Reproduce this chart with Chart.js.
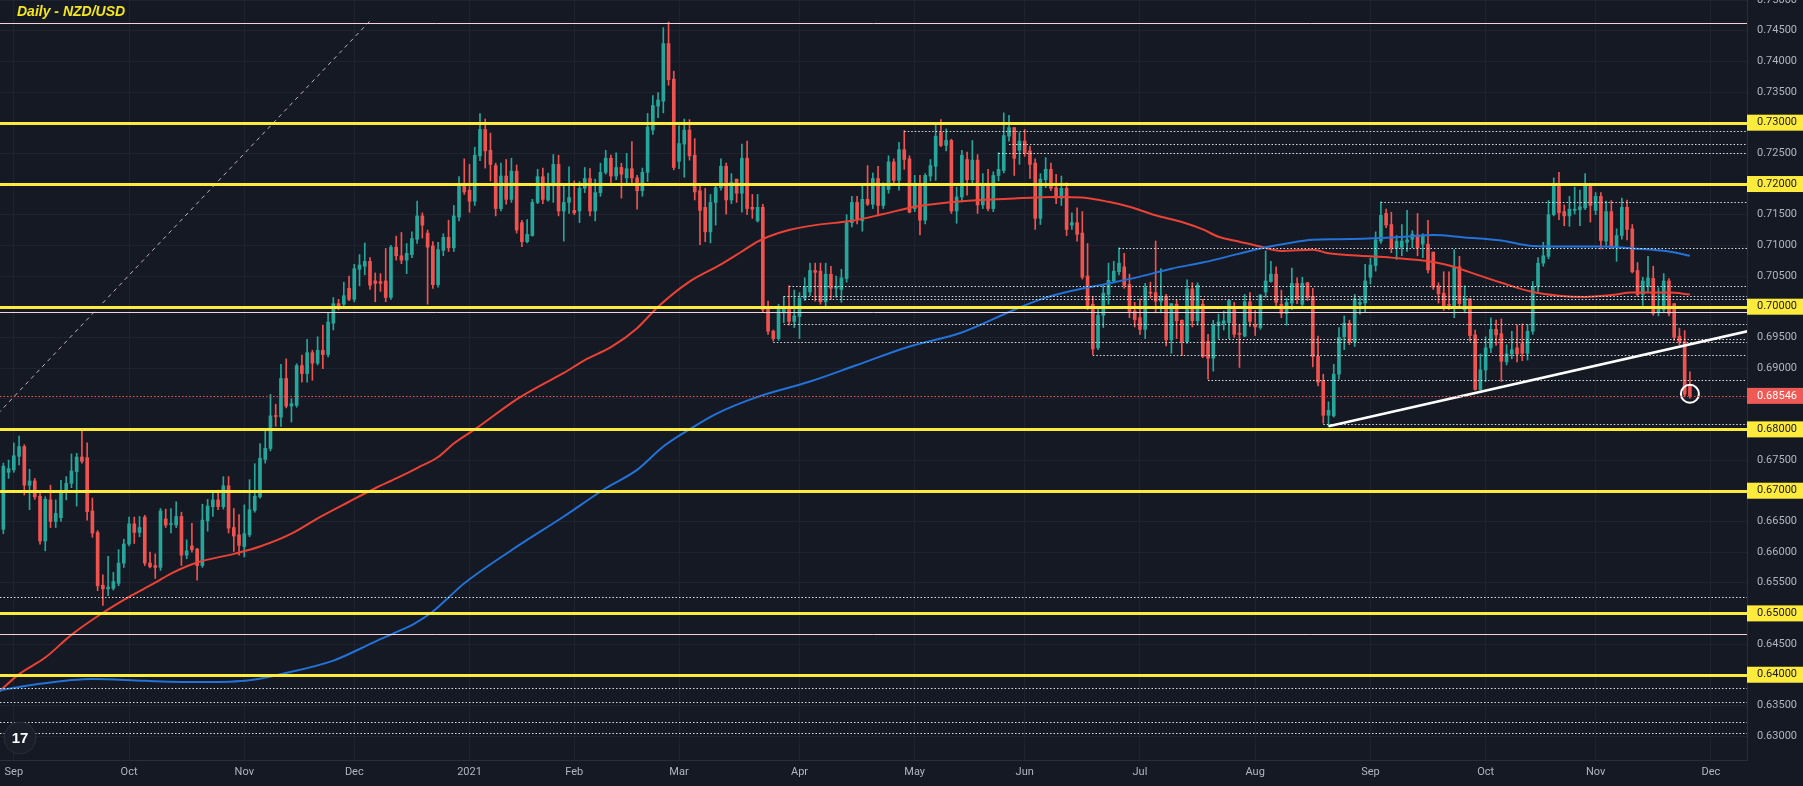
<!DOCTYPE html>
<html>
<head>
<meta charset="utf-8">
<script src="https://cdn.jsdelivr.net/npm/chart.js@4.4.1/dist/chart.umd.min.js"></script>
<style>
  html, body { margin: 0; padding: 0; background: #151924; overflow: hidden; }
  canvas { display: block; }
</style>
</head>
<body>
<canvas id="chart" width="1803" height="786"></canvas>
<script>
// Daily NZD/USD candles, values in pips (price * 10000), one entry per trading day
const opens = [
  6620,6637,6730,6734,6756,6772,6709,6716,6691,6618, 6685,6650,6656,6701,6712,6731,6755,6754,6667,6632,
  6546,6540,6541,6549,6582,6613,6646,6632,6657,6582, 6578,6575,6654,6645,6644,6658,6595,6610,6605,6578,
  6651,6674,6685,6674,6708,6640,6628,6609,6628,6668, 6690,6751,6769,6822,6820,6883,6838,6839,6904,6891,
  6925,6908,6929,6922,6973,7005,7004,7030,7012,7061, 7066,7074,7042,7041,7042,7015,7097,7083,7076,7085,
  7110,7148,7120,7099,7036,7092,7113,7096,7146,7199, 7190,7172,7246,7289,7255,7230,7160,7213,7175,7221,
  7137,7106,7116,7170,7212,7174,7197,7232,7156,7170, 7157,7156,7193,7209,7156,7186,7219,7242,7213,7227,
  7210,7225,7210,7189,7219,7288,7327,7335,7429,7371, 7237,7265,7288,7247,7189,7162,7122,7170,7194,7229,
  7174,7208,7185,7242,7162,7140,7162,6998,6960,6948, 6990,7000,6976,6984,7014,7024,7059,7058,7008,7053,
  7030,7028,7046,7137,7170,7140,7175,7167,7209,7165, 7191,7236,7206,7256,7241,7160,7199,7141,7213,7229,
  7284,7263,7271,7156,7179,7240,7207,7239,7166,7198, 7160,7214,7222,7278,7292,7255,7270,7254,7234,7144,
  7207,7224,7194,7177,7193,7133,7137,7120,7050,7004, 6933,6986,7020,7042,7057,7065,7036,6993,6982,6963,
  7023,7023,7009,7017,6946,7004,6978,6943,7029,6977, 7004,6943,6916,6969,6973,6974,7000,6956,6952,7008,
  6970,6966,7024,7041,7053,7004,6989,7006,7038,7004, 7039,7017,6919,6879,6823,6822,6890,6951,6973,6943,
  7004,7006,7048,7067,7107,7152,7134,7095,7097,7105, 7110,7117,7102,7102,7089,7034,7022,7003,7001,7065,
  6995,7013,6954,6865,6897,6933,6963,6956,6910,6923, 6933,6940,6924,6960,7033,7071,7082,7150,7199,7155,
  7148,7157,7158,7161,7199,7157,7180,7107,7155,7098, 7116,7162,7127,7059,7020,7033,7046,6990,6995,7042,
  7005,6952,6943,6870
];
const highs = [
  6645,6745,6750,6778,6789,6775,6735,6720,6697,6690, 6709,6685,6717,6723,6760,6761,6798,6778,6688,6635,
  6563,6593,6567,6604,6621,6657,6657,6658,6660,6600, 6597,6671,6670,6671,6682,6665,6620,6647,6606,6678,
  6686,6699,6701,6723,6723,6671,6661,6677,6718,6744, 6777,6798,6857,6841,6906,6915,6850,6907,6921,6947,
  6929,6951,6970,6990,7015,7012,7040,7050,7069,7085, 7104,7080,7055,7054,7095,7100,7115,7121,7103,7122,
  7172,7153,7125,7106,7105,7119,7141,7165,7212,7241, 7232,7260,7315,7306,7283,7234,7234,7240,7242,7231,
  7141,7142,7175,7224,7226,7218,7248,7247,7197,7228, 7205,7204,7227,7225,7208,7234,7255,7247,7251,7234,
  7250,7269,7214,7226,7315,7344,7349,7455,7464,7384, 7295,7306,7305,7274,7197,7193,7183,7200,7241,7234,
  7217,7208,7265,7270,7183,7183,7167,7009,6962,7004, 7017,7034,7027,7023,7047,7071,7071,7071,7071,7066,
  7050,7061,7150,7180,7180,7198,7230,7218,7229,7202, 7246,7241,7268,7287,7246,7214,7214,7217,7240,7297,
  7305,7290,7273,7195,7255,7252,7271,7248,7217,7224, 7220,7251,7316,7312,7292,7284,7289,7262,7241,7217,
  7243,7234,7216,7213,7202,7153,7161,7155,7103,7017, 6996,7036,7071,7074,7096,7087,7053,7007,7013,7038,
  7040,7107,7062,7020,7005,7011,6978,7044,7039,7039, 7012,6955,6978,6988,6993,7010,7007,6971,7020,7023,
  6994,7020,7091,7074,7065,7027,7014,7063,7047,7048, 7040,7030,6952,6890,6845,6906,6966,6985,6978,7020,
  7017,7069,7079,7122,7171,7159,7154,7116,7134,7157, 7124,7152,7119,7141,7089,7039,7057,7057,7093,7082,
  7034,7013,6962,6923,6951,6982,6978,6980,6938,6960, 6970,6972,6971,7041,7080,7105,7173,7210,7219,7166,
  7180,7195,7190,7217,7199,7186,7186,7172,7173,7127, 7177,7174,7134,7072,7048,7082,7066,7031,7054,7046,
  7005,6965,6961,6894
];
const lows = [
  6600,6630,6720,6730,6742,6693,6669,6686,6613,6602, 6640,6640,6650,6685,6705,6675,6745,6652,6624,6537,
  6513,6529,6538,6545,6575,6610,6614,6625,6578,6574, 6557,6570,6640,6631,6640,6578,6589,6600,6554,6575,
  6634,6658,6669,6670,6631,6601,6595,6592,6625,6665, 6688,6745,6765,6805,6805,6835,6812,6836,6877,6877,
  6880,6905,6899,6918,6962,6995,7000,7010,7008,7034, 7052,7028,7008,7025,7008,7012,7076,7070,7054,7080,
  7103,7112,7004,7030,7032,7083,7090,7090,7140,7183, 7154,7165,7238,7226,7205,7148,7156,7167,7170,7120,
  7098,7104,7115,7168,7168,7172,7170,7148,7107,7152, 7150,7137,7186,7148,7140,7180,7216,7202,7207,7177,
  7200,7202,7159,7180,7204,7281,7308,7316,7361,7223, 7225,7211,7239,7174,7101,7106,7104,7133,7190,7151,
  7168,7170,7154,7150,7144,7138,6991,6955,6944,6945, 6974,6970,6966,6948,7010,7018,7009,7004,7000,7012,
  7015,7007,7040,7130,7135,7123,7165,7160,7148,7160, 7185,7200,7190,7224,7153,7155,7117,7135,7205,7206,
  7261,7254,7152,7136,7171,7182,7200,7152,7160,7156, 7155,7205,7218,7270,7214,7232,7245,7209,7126,7134,
  7194,7189,7168,7165,7116,7126,7107,7045,6995,6922, 6930,6966,7004,7039,7052,7030,6982,6967,6955,6948,
  7014,6990,6990,6936,6924,6948,6920,6940,6967,6970, 6917,6882,6895,6948,6962,6948,6950,6901,6951,6968,
  6953,6963,7015,7040,7001,6982,6970,6995,7005,6998, 7010,6902,6871,6810,6805,6820,6882,6930,6938,6935,
  6988,6991,7037,7058,7103,7129,7088,7077,7083,7090, 7096,7083,7080,7055,7028,7006,6994,6995,6982,7000,
  6990,6944,6864,6864,6878,6925,6937,6878,6905,6915, 6910,6912,6913,6955,7025,7066,7078,7148,7142,7132,
  7131,7151,7132,7158,7138,7150,7094,7100,7095,7074, 7110,7109,7055,7017,7002,7025,6986,6985,6990,6985,
  6945,6938,6853,6851
];
const closes = [
  6639,6740,6736,6757,6772,6709,6716,6690,6618,6686, 6650,6663,6696,6712,6732,6755,6748,6666,6631,6545,
  6540,6543,6552,6582,6613,6646,6632,6640,6582,6576, 6575,6667,6644,6645,6658,6595,6602,6604,6578,6652,
  6675,6685,6674,6708,6639,6626,6611,6630,6669,6691, 6753,6769,6822,6821,6883,6838,6842,6904,6891,6925,
  6908,6929,6922,6975,7005,7001,7018,7012,7062,7068, 7074,7035,7038,7038,7015,7097,7083,7076,7087,7111,
  7148,7133,7097,7036,7093,7113,7096,7148,7199,7187, 7172,7247,7289,7254,7232,7160,7213,7175,7221,7125,
  7106,7118,7170,7212,7175,7197,7232,7156,7170,7178, 7153,7193,7209,7156,7186,7219,7242,7213,7227,7216,
  7225,7210,7189,7219,7293,7328,7337,7429,7370,7227, 7266,7288,7246,7187,7157,7122,7170,7194,7229,7174,
  7203,7185,7242,7160,7159,7162,6995,6960,6948,6998, 6998,6976,6985,7014,7032,7059,7056,7008,7053,7030,
  7033,7047,7137,7170,7143,7175,7167,7209,7165,7196, 7236,7206,7256,7240,7154,7199,7141,7214,7230,7278,
  7263,7271,7156,7179,7247,7207,7239,7166,7198,7160, 7214,7224,7279,7292,7242,7270,7251,7232,7144,7208,
  7224,7193,7177,7193,7126,7137,7118,7048,7000,6931, 6986,7022,7043,7058,7071,7035,6992,6979,6963,7031,
  7022,7009,7017,6946,7005,6977,6943,7029,6977,7035, 6919,6916,6970,6975,6977,7010,6955,6955,7008,6976,
  6967,7019,7042,7053,7007,6989,7007,7038,7013,7038, 7015,6919,6877,6823,6831,6890,6950,6973,6943,7013,
  7007,7042,7068,7109,7149,7133,7095,7107,7107,7109, 7118,7096,7117,7060,7032,7021,7001,7002,7065,7005,
  7014,6953,6865,6897,6933,6963,6954,6911,6923,6930, 6923,6924,6960,7033,7071,7083,7150,7199,7153,7148,
  7159,7159,7163,7199,7165,7180,7108,7155,7098,7116, 7162,7126,7057,7020,7042,7047,6989,6997,7042,6989,
  6950,6943,6857,6854.6
];

// month tick labels (day index of the first trading day of each month)
const monthTickIdx = [3, 25, 47, 68, 90, 110, 130, 153, 175, 196, 218, 240, 262, 284, 305, 327];
const monthLabels = ['Sep', 'Oct', 'Nov', 'Dec', '2021', 'Feb', 'Mar', 'Apr', 'May', 'Jun', 'Jul', 'Aug', 'Sep', 'Oct', 'Nov', 'Dec'];
const yTicks = [0.630, 0.635, 0.640, 0.645, 0.650, 0.655, 0.660, 0.665, 0.670, 0.675, 0.680, 0.685, 0.690,
                0.695, 0.700, 0.705, 0.710, 0.715, 0.720, 0.725, 0.730, 0.735, 0.740, 0.745, 0.750];

// moving averages
const ma100Idx = [0,4,9,14,20,25,30,33,38,45,50,56,61,67,72,76,80,84,87,91,99,103,108,112,117,122,126,132,138,142,
  145,147,151,156,163,169,175,184,193,202,207,212,216,221,226,230,233,237,241,245,251,254,260,266,274,278,280,287,293,298,
  303,308,312,319,323];
const ma100 = [0.6371,0.6401,0.6428,0.6465,0.6501,0.6527,0.6550,0.6565,0.6583,0.6597,0.6609,0.6630,0.6655,0.6682,0.6704,
  0.6720,0.6737,0.6755,0.6777,0.6800,0.6849,0.6869,0.6892,0.6913,0.6934,0.6965,0.7000,0.7041,0.7069,0.7090,
  0.7106,0.7114,0.7125,0.7133,0.7140,0.7151,0.7163,0.7172,0.7176,0.7179,0.7178,0.7171,0.7163,0.7149,0.7138,
  0.7126,0.7114,0.7106,0.7098,0.7091,0.7093,0.7087,0.7083,0.7080,0.7073,0.7065,0.7059,0.7039,0.7024,0.7018,
  0.7016,0.7019,0.7023,0.7023,0.7020];
const ma200Idx = [0,7,18,28,39,48,54,64,72,77,79,83,86,89,98,108,116,122,127,132,137,145,155,164,174,184,194,199,205,212,
  218,224,230,233,241,246,251,256,264,272,274,280,287,293,300,306,312,319,323];
const ma200 = [0.6374,0.6384,0.6393,0.6390,0.6388,0.6391,0.6401,0.6423,0.6454,0.6473,0.6481,0.6503,0.6526,0.6549,0.6603,
  0.6658,0.6704,0.6734,0.6772,0.6800,0.6825,0.6853,0.6878,0.6905,0.6935,0.6958,0.6995,0.7012,0.7026,0.7038,
  0.7049,0.7062,0.7072,0.7078,0.7095,0.7103,0.7109,0.7110,0.7112,0.7116,0.7117,0.7113,0.7108,0.7099,0.7098,
  0.7098,0.7095,0.7090,0.7083];

// drawings
const yellowLevels = [0.73, 0.72, 0.70, 0.68, 0.67, 0.65, 0.64];
const pinkLevels = [0.7463, 0.6992, 0.6467];
const dottedLevels = [0.7286, 0.7265, 0.7250, 0.7170, 0.7095, 0.7034, 0.7017, 0.7012, 0.6972, 0.6947, 0.6942,
                      0.6922, 0.6880, 0.6808, 0.6527, 0.6378, 0.6356, 0.6323, 0.6305];
const dottedFrom = [173, 193, 191, 264, 214, 151, 150, 154, 150, 233, 148, 209, 231, 253, 0, 0, 0, 0, 0];
const trendIdx = [254, 334];
const trendVal = [0.6805, 0.6960];
const diagIdx = [0, 71];
const diagVal = [0.6826, 0.7466];
const markIdx = [323];
const markVal = [0.6858];

const PIP = 10000;
const lastPrice = closes[closes.length - 1] / PIP;
const days = opens.map((_, i) => i);
const candleColors = days.map(i => closes[i] >= opens[i] ? '#26a69a' : '#ef5350');

const drawings = {
  id: 'drawings',
  afterDatasetsDraw(chart) {
    const { ctx, chartArea: a, scales: { x, y } } = chart;
    ctx.save();
    ctx.beginPath();
    ctx.rect(a.left, a.top, a.width, a.height);
    ctx.clip();
    const hline = (v, x0, color, width, dash) => {
      const py = Math.round(y.getPixelForValue(v)) + (width % 2 ? 0.5 : 0);
      ctx.strokeStyle = color;
      ctx.lineWidth = width;
      ctx.setLineDash(dash);
      ctx.beginPath();
      ctx.moveTo(x0, py);
      ctx.lineTo(a.right, py);
      ctx.stroke();
    };
    dottedLevels.forEach((v, k) => {
      hline(v, Math.max(a.left, x.getPixelForValue(dottedFrom[k])), 'rgba(255,255,255,0.85)', 1, [1.5, 2]);
    });
    hline(lastPrice, a.left, '#f05350', 1, [1.5, 2]);
    pinkLevels.forEach(v => hline(v, a.left, '#f4d3d8', 1, []));
    yellowLevels.forEach(v => hline(v, a.left, '#ffeb3b', 3, []));
    ctx.restore();
  },
  afterDraw(chart) {
    const { ctx, scales: { y } } = chart;
    ctx.save();
    ctx.font = '11px Roboto';
    ctx.textBaseline = 'middle';
    ctx.textAlign = 'left';
    yellowLevels.forEach(v => {
      const py = y.getPixelForValue(v);
      ctx.fillStyle = '#ffeb3b';
      ctx.fillRect(y.left, py - 8, y.width, 16);
      ctx.fillStyle = '#131722';
      ctx.fillText(v.toFixed(5), y.left + 10, py);
    });
    const pp = y.getPixelForValue(lastPrice);
    ctx.fillStyle = '#f05a55';
    ctx.fillRect(y.left, pp - 8, y.width, 16);
    ctx.fillStyle = '#ffffff';
    ctx.fillText(lastPrice.toFixed(5), y.left + 10, pp);

    // title
    ctx.font = 'italic bold 14px "Liberation Sans"';
    ctx.fillStyle = '#f5e71d';
    ctx.fillText('Daily - NZD/USD', 17, 12);

    // logo
    ctx.beginPath();
    ctx.arc(20, 738, 16, 0, Math.PI * 2);
    ctx.fillStyle = '#1a1e29';
    ctx.fill();
    ctx.strokeStyle = '#2a2e39';
    ctx.lineWidth = 1;
    ctx.stroke();
    ctx.fillStyle = '#ffffff';
    ctx.font = 'bold 15px "Liberation Sans"';
    ctx.textAlign = 'center';
    ctx.fillText('17', 20, 739);
    ctx.restore();
  }
};

const ctx = document.getElementById('chart').getContext('2d');
const chart = new Chart(ctx, {
  type: 'bar',
  data: {
    datasets: [
      {
        label: 'Wicks',
        data: days.map(i => ({ x: i, y: [lows[i] / PIP, highs[i] / PIP] })),
        backgroundColor: candleColors,
        barThickness: 1,
        grouped: false,
        order: 6
      },
      {
        label: 'Bodies',
        data: days.map(i => ({ x: i, y: [opens[i] / PIP, closes[i] / PIP] })),
        backgroundColor: candleColors,
        barThickness: 3,
        minBarLength: 1,
        grouped: false,
        order: 5
      },
      {
        type: 'line',
        label: 'MA 100',
        data: ma100Idx.map((d, k) => ({ x: d, y: ma100[k] })),
        borderColor: '#ec4236',
        borderWidth: 2,
        pointRadius: 0,
        cubicInterpolationMode: 'monotone',
        order: 4
      },
      {
        type: 'line',
        label: 'MA 200',
        data: ma200Idx.map((d, k) => ({ x: d, y: ma200[k] })),
        borderColor: '#2372d8',
        borderWidth: 2,
        pointRadius: 0,
        cubicInterpolationMode: 'monotone',
        order: 3
      },
      {
        type: 'line',
        label: 'Diagonal',
        data: diagIdx.map((d, k) => ({ x: d, y: diagVal[k] })),
        borderColor: 'rgba(225,205,215,0.85)',
        borderWidth: 1,
        borderDash: [4, 4],
        pointRadius: 0,
        order: 2
      },
      {
        type: 'line',
        label: 'Trend',
        data: trendIdx.map((d, k) => ({ x: d, y: trendVal[k] })),
        borderColor: '#ffffff',
        borderWidth: 2.5,
        pointRadius: 0,
        order: 1
      },
      {
        type: 'line',
        label: 'Mark',
        data: markIdx.map((d, k) => ({ x: d, y: markVal[k] })),
        showLine: false,
        pointRadius: 9,
        pointBorderWidth: 2,
        pointBorderColor: '#ffffff',
        pointBackgroundColor: 'rgba(0,0,0,0)',
        order: 0
      }
    ]
  },
  options: {
    responsive: false,
    devicePixelRatio: 1,
    animation: false,
    events: [],
    layout: { padding: 0, autoPadding: false },
    plugins: { legend: { display: false }, tooltip: { enabled: false } },
    scales: {
      x: {
        type: 'linear',
        min: 0.36,
        max: 333.9,
        offset: false,
        afterBuildTicks: s => { s.ticks = monthTickIdx.map(v => ({ value: v })); },
        afterFit: s => {
          s.height = 26;
          s.paddingLeft = 0;
          s.paddingRight = 0;
        },
        ticks: {
          callback: (v, i) => monthLabels[i],
          color: '#b2b5be',
          font: { family: 'Roboto', size: 11 },
          padding: 6,
          autoSkip: false,
          maxRotation: 0
        },
        grid: { color: '#1f2330', drawTicks: false, offset: false },
        border: { color: '#2a2e39' }
      },
      y: {
        type: 'linear',
        position: 'right',
        min: 0.6261,
        max: 0.75,
        afterBuildTicks: s => { s.ticks = yTicks.map(v => ({ value: v })); },
        afterFit: s => {
          s.width = 56;
          s.paddingTop = 0;
          s.paddingBottom = 0;
        },
        ticks: {
          callback: v => v.toFixed(5),
          color: '#b2b5be',
          font: { family: 'Roboto', size: 11 },
          padding: 10,
          autoSkip: false
        },
        grid: { color: '#1f2330', drawTicks: false },
        border: { color: '#2a2e39' }
      }
    }
  },
  plugins: [drawings]
});
</script>
</body>
</html>
